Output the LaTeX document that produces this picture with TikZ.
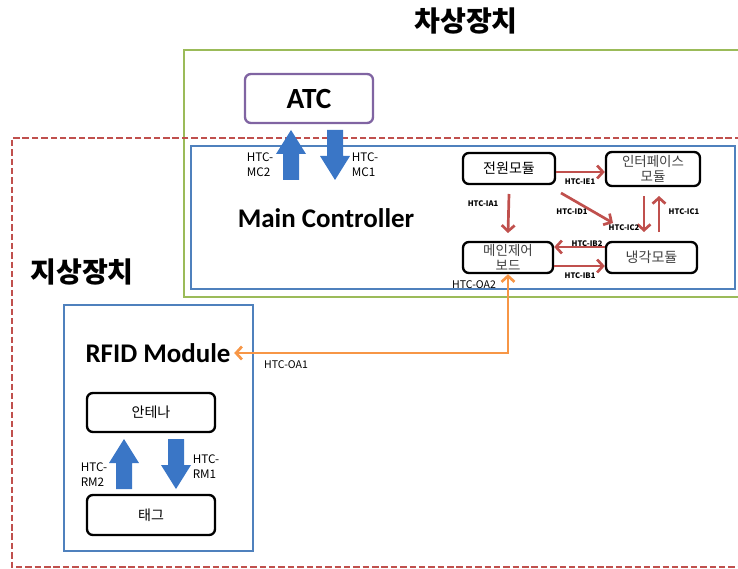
\documentclass[tikz,border=0pt]{standalone}
\usepackage{fontspec}
\setmainfont{Noto Sans CJK KR}
\newfontfamily\calfont{Carlito}
\usepackage{tikz}
\usetikzlibrary{arrows.meta}
\usetikzlibrary{calc}

\definecolor{redline}{RGB}{192,80,77}
\definecolor{greenline}{RGB}{155,187,89}
\definecolor{blueline}{RGB}{79,129,189}
\definecolor{purpleline}{RGB}{128,100,162}
\definecolor{orangeline}{RGB}{247,150,70}
\definecolor{arrowblue}{RGB}{58,118,198}

\begin{document}
\begin{tikzpicture}[x=0.03cm, y=-0.03cm,
  modbox/.style={draw, rounded corners=5pt, line width=2pt, text=black!75, align=center, inner sep=0pt, font=\fontsize{12}{13}\selectfont},
  redarrow/.style={draw=redline, line width=2.3pt, -{Straight Barb[length=5pt,width=11pt]}},
  lbl/.style={inner sep=0pt, font=\fontsize{6.5}{7}\selectfont\bfseries},
  blbl/.style={inner sep=0pt, align=left, font=\fontsize{10}{13}\selectfont},
  fatarrow/.pic={\fill[arrowblue] (-8,25) -- (-8,-1) -- (-15,-1) -- (0,-25) -- (15,-1) -- (8,-1) -- (8,25) -- cycle;}]
\useasboundingbox (0,0) rectangle (738,569);
\clip (0,0) rectangle (738,569);

\node[font=\fontsize{24}{26}\selectfont\bfseries] (upper) at (466,21) {차상장치};
\node[font=\fontsize{24}{26}\selectfont\bfseries] (lower) at (82,272) {지상장치};

\draw[greenline, line width=2.2pt] (760,50) -- (184,50) -- (184,297) -- (760,297);
\draw[redline, line width=2.2pt, dash pattern=on 5.5pt off 2.5pt] (760,138) -- (12,138) -- (12,567) -- (760,567);
\draw[blueline, line width=2.2pt] (191,146) rectangle (735,289);
\draw[blueline, line width=2.2pt] (64,305) rectangle (253,551);

% onboard
\node[modbox, draw=purpleline, text=black, minimum width=3.84cm, minimum height=1.47cm, font=\fontsize{25}{27}\selectfont\calfont\bfseries] (atc) at (309,98.5) {ATC};
\pic at (291,155) {fatarrow};
\pic[rotate=180] at (335,155) {fatarrow};
\node[blbl] (mc2) at (260,165) {HTC-\\MC2};
\node[blbl] (mc1) at (365,165) {HTC-\\MC1};
\node[font=\fontsize{23}{25}\selectfont\calfont\bfseries] (mainctl) at (326,218) {Main Controller};

\node[modbox, text=black, minimum width=2.76cm, minimum height=0.93cm] (pwr) at (509,168.5) {전원모듈};
\node[modbox, minimum width=2.82cm, minimum height=1.02cm, font=\fontsize{11.5}{12.5}\selectfont] (iface) at (653,169) {인터페이스\\모듈};
\node[modbox, minimum width=2.7cm, minimum height=0.93cm, font=\fontsize{11.5}{12.5}\selectfont] (mainb) at (508,257.5) {메인제어\\보드};
\node[modbox, minimum width=2.73cm, minimum height=0.93cm] (cool) at (651.5,257.5) {냉각모듈};

\draw[redarrow] (pwr.east |- 0,172) -- (iface.west |- 0,172);
\draw[redarrow] (509,194) -- (mainb.north |- 0,233);
\draw[redarrow] (561,193) -- (613,223);
\draw[redarrow] (644,196) -- (644,232);
\draw[redarrow] (659,232) -- (659,196);
\draw[redarrow] (cool.west |- 0,247) -- (mainb.east |- 0,247);
\draw[redarrow] (mainb.east |- 0,266) -- (cool.west |- 0,266);

\node[lbl] (ie1) at (580,182) {HTC-IE1};
\node[lbl] (ia1) at (483,204) {HTC-IA1};
\node[lbl] (id1) at (572,212) {HTC-ID1};
\node[lbl] (ic2) at (624,228) {HTC-IC2};
\node[lbl] (ic1) at (684,212) {HTC-IC1};
\node[lbl] (ib2) at (587,244) {HTC-IB2};
\node[lbl] (ib1) at (580,276) {HTC-IB1};
\node[inner sep=0pt, font=\fontsize{9}{10}\selectfont] (oa2) at (474,285) {HTC-OA2};

% wayside
\node[font=\fontsize{23}{25}\selectfont\calfont\bfseries, inner sep=3pt] (rfid) at (158,353) {RFID Module};
\node[inner sep=0pt, font=\fontsize{9}{10}\selectfont] (oa1) at (286,365) {HTC-OA1};
\draw[orangeline, line width=2.3pt, {Straight Barb[length=5pt,width=11pt]}-{Straight Barb[length=5pt,width=11pt]}] (rfid.east |- 0,353) -- (508,353) -- (mainb.south -| 508,0);

\node[modbox, text=black, minimum width=3.84cm, minimum height=1.17cm] (ant) at (151,412.5) {안테나};
\node[modbox, text=black, minimum width=3.84cm, minimum height=1.2cm] (tag) at (151,515) {태그};
\pic at (124,464) {fatarrow};
\pic[rotate=180] at (176,464) {fatarrow};
\node[blbl] (rm2) at (94,475) {HTC-\\RM2};
\node[blbl] (rm1) at (206,467) {HTC-\\RM1};
\end{tikzpicture}
\end{document}
